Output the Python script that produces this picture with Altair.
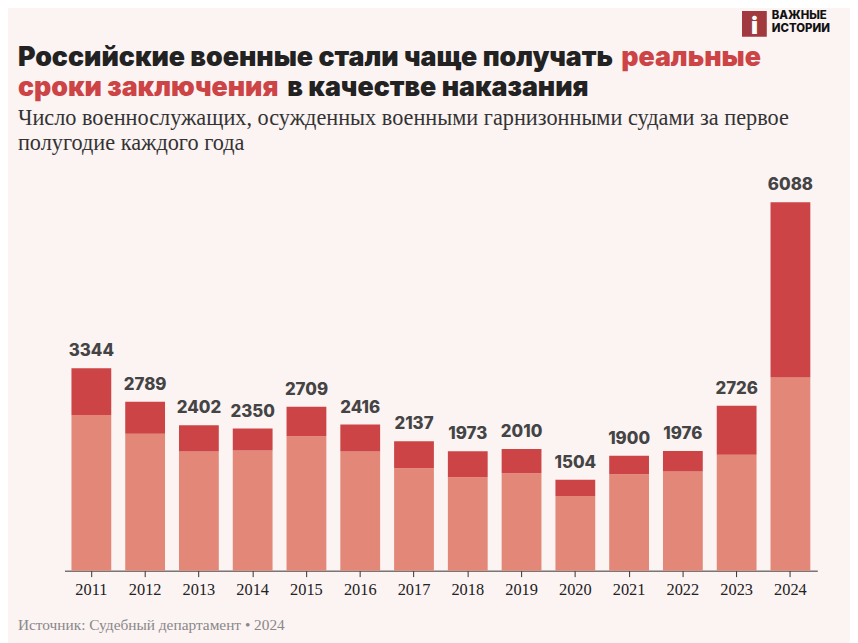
import altair as alt
import pandas as pd

# ---- data ----
years = [str(y) for y in range(2011, 2025)]
totals = [3344, 2789, 2402, 2350, 2709, 2416, 2137, 1973, 2010, 1504, 1900, 1976, 2726, 6088]
other = [2574, 2263, 1969, 1985, 2219, 1969, 1691, 1543, 1609, 1232, 1593, 1637, 1915, 3191]
real = [t - o for t, o in zip(totals, other)]

kinds = ["Другие наказания", "Реальные сроки"]
kind_colors = ["#e38878", "#cc4446"]

title_line1 = "Российские военные стали чаще получать "
title_red1 = "реальные"
title_red2 = "сроки заключения"
title_line2 = "в качестве наказания"
subtitle1 = "Число военнослужащих, осужденных военными гарнизонными судами за первое"
subtitle2 = "полугодие каждого года"
source = "Источник: Судебный департамент • 2024"
logo1 = "ВАЖНЫЕ"
logo2 = "ИСТОРИИ"

W, H = 850, 565
BG = "#fcf3f3"

bars_df = pd.DataFrame({
    "year": years * 2,
    "kind": [kinds[0]] * len(years) + [kinds[1]] * len(years),
    "y0": [0] * len(years) + other,
    "y1": other + totals,
})
labels_df = pd.DataFrame({"year": years, "total": totals})

xenc = alt.X(
    "year:N",
    title=None,
    scale=alt.Scale(range=[57, 817], paddingInner=0.26, paddingOuter=0.13),
    axis=alt.Axis(
        labelAngle=0, labelFont="Liberation Serif", labelFontSize=16.5, labelColor="#222",
        tickColor="#333", tickSize=6, domainColor="#333", domainWidth=1, labelPadding=5,
        grid=False,
    ),
)
yscale = alt.Scale(domain=[0, 9247], nice=False)

bars = alt.Chart(bars_df).mark_bar().encode(
    x=xenc,
    y=alt.Y("y0:Q", scale=yscale, axis=None),
    y2="y1:Q",
    color=alt.Color("kind:N", scale=alt.Scale(domain=kinds, range=kind_colors), legend=None),
)

labels = alt.Chart(labels_df).mark_text(
    dy=-8, baseline="bottom", font="Inter", fontWeight=800, fontSize=17, color="#444"
).encode(
    x=xenc,
    y=alt.Y("total:Q", scale=yscale, axis=None),
    text="total:Q",
)

# title pieces
title_df = pd.DataFrame({
    "t": [title_line1, title_red1, title_red2, title_line2],
    "px": [10, 619, 10, 282],
    "py": [56, 56, 86, 86],
    "c": ["#222222", "#cc4446", "#cc4446", "#222222"],
})
title = alt.Chart(title_df).mark_text(
    align="left", baseline="alphabetic", font="Inter", fontWeight=900, fontSize=27
).encode(
    x=alt.X("px:Q", scale=None, axis=None),
    y=alt.Y("py:Q", scale=None, axis=None),
    text="t:N",
    color=alt.Color("c:N", scale=None),
)

sub_df = pd.DataFrame({"t": [subtitle1, subtitle2], "px": [10, 10], "py": [115, 140]})
subtitle = alt.Chart(sub_df).mark_text(
    align="left", baseline="alphabetic", font="Liberation Serif", fontSize=22.5, color="#333"
).encode(
    x=alt.X("px:Q", scale=None, axis=None),
    y=alt.Y("py:Q", scale=None, axis=None),
    text="t:N",
)

src_df = pd.DataFrame({"t": [source], "px": [10], "py": [625]})
src = alt.Chart(src_df).mark_text(
    align="left", baseline="alphabetic", font="Liberation Serif", fontSize=15.5, color="#888"
).encode(
    x=alt.X("px:Q", scale=None, axis=None),
    y=alt.Y("py:Q", scale=None, axis=None),
    text="t:N",
)

# logo
logo_rect = alt.Chart(pd.DataFrame({"a": [0]})).mark_rect(color="#a03a3e").encode(
    x=alt.value(741), x2=alt.value(766), y=alt.value(0), y2=alt.value(26)
)
logo_i = alt.Chart(pd.DataFrame({"t": ["i"]})).mark_text(
    font="Inter", fontWeight=900, fontSize=24, color="white", baseline="alphabetic"
).encode(x=alt.value(753.5), y=alt.value(23), text="t:N")
logo_txt_df = pd.DataFrame({"t": [logo1, logo2], "px": [771, 771], "py": [8, 21]})
logo_txt = alt.Chart(logo_txt_df).mark_text(
    align="left", baseline="alphabetic", font="Inter", fontWeight=800, fontSize=11.5, color="#111"
).encode(
    x=alt.X("px:Q", scale=None, axis=None),
    y=alt.Y("py:Q", scale=None, axis=None),
    text="t:N",
)

chart = alt.layer(bars, labels, title, subtitle, src, logo_rect, logo_i, logo_txt).properties(
    width=W, height=H,
    autosize=alt.AutoSizeParams(type="none"),
    padding={"left": 0, "top": 0, "right": 0, "bottom": 70},
    background=BG,
).configure_view(stroke=None)

chart.save("out.html", embed_options={"renderer": "svg", "actions": False})
